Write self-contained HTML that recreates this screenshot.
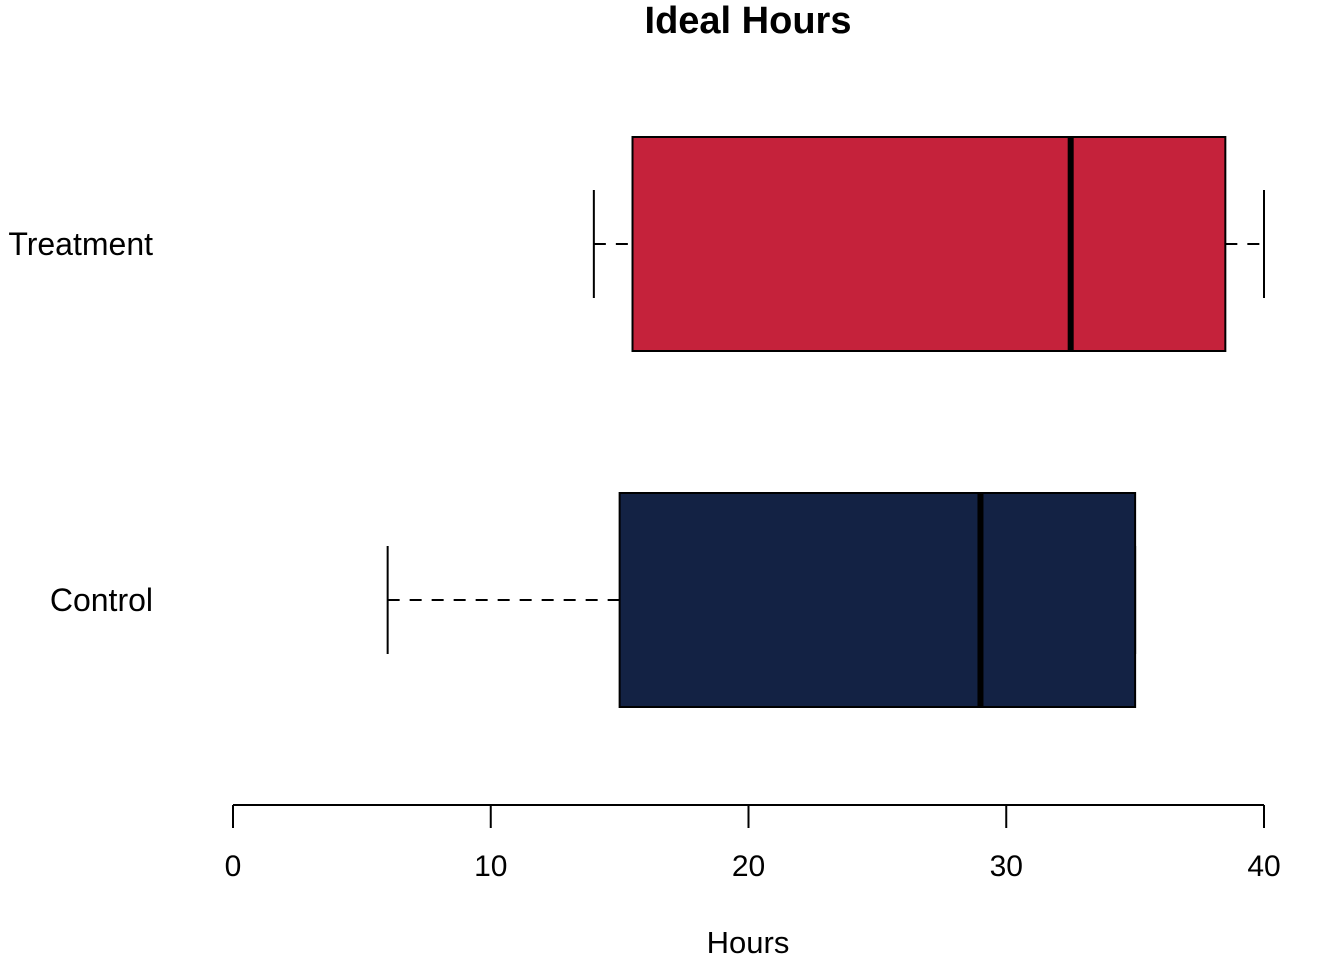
<!DOCTYPE html>
<html><head><meta charset="utf-8"><style>
html,body{margin:0;padding:0;background:#fff;}
svg{display:block;font-family:"Liberation Sans",Arial,sans-serif;}
</style></head><body>
<svg id="chart" width="1344" height="960" viewBox="0 0 1344 960" xmlns="http://www.w3.org/2000/svg">
<text x="748" y="33" text-anchor="middle" font-size="38" font-weight="bold">Ideal Hours</text>
<text x="748" y="953" text-anchor="middle" font-size="31">Hours</text>
<g id="axis"></g>
<g id="boxes"></g>
</svg>
<script>
const groups = ["Control", "Treatment"];
const mins = [6, 14];
const q1s = [15, 15.5];
const medians = [29, 32.5];
const q3s = [35, 38.5];
const maxs = [35, 40];
const colors = ["#132244", "#c5223b"];
const ticks = [0, 10, 20, 30, 40];

const NS = "http://www.w3.org/2000/svg";
const xs = v => 233 + (v - 0) * (1264 - 233) / 40;
const centers = [600, 244];
const ys = i => centers[i];
const half = 107, capHalf = 54;
function mk(tag, attrs, parent){ const e=document.createElementNS(NS,tag); for(const k in attrs) e.setAttribute(k,attrs[k]); parent.appendChild(e); return e; }

const ax = document.getElementById('axis');
let l = mk('line',{x1:xs(ticks[0]),x2:xs(ticks[ticks.length-1]),y1:805,y2:805,stroke:'#000','stroke-width':2},ax);


ticks.forEach(t=>{
  const tk = mk('line',{x1:xs(t),x2:xs(t),y1:805,y2:828,stroke:'#000','stroke-width':2},ax);
  
  
  const tx = mk('text',{x:xs(t),y:876,'text-anchor':'middle','font-size':30},ax);
  
  
  tx.textContent = t;
});

const bx = document.getElementById('boxes');
groups.forEach((g,i)=>{
  const y = ys(i);
  const lab = mk('text',{x:153,y:y+11,'text-anchor':'end','font-size':32},bx);
  
  
  lab.textContent = g;
  if (mins[i] < q1s[i]) {
    const w = mk('line',{x1:xs(mins[i]),x2:xs(q1s[i]),y1:y,y2:y,stroke:'#000','stroke-width':2,'stroke-dasharray':'12,10'},bx);
    
    
  }
  const c1 = mk('line',{x1:xs(mins[i]),x2:xs(mins[i]),y1:y-capHalf,y2:y+capHalf,stroke:'#000','stroke-width':2},bx);
  
  
  if (maxs[i] > q3s[i]) {
    const w2 = mk('line',{x1:xs(q3s[i]),x2:xs(maxs[i]),y1:y,y2:y,stroke:'#000','stroke-width':2,'stroke-dasharray':'12,10'},bx);
    
    
  }
  const c2 = mk('line',{x1:xs(maxs[i]),x2:xs(maxs[i]),y1:y-capHalf,y2:y+capHalf,stroke:'#000','stroke-width':2},bx);
  
  
  const r = mk('rect',{x:xs(q1s[i]),y:y-half,width:xs(q3s[i])-xs(q1s[i]),height:2*half,fill:colors[i],stroke:'#000','stroke-width':2},bx);
  
  
  const m = mk('line',{x1:xs(medians[i]),x2:xs(medians[i]),y1:y-half,y2:y+half,stroke:'#000','stroke-width':6},bx);
  
  
});
</script>
</body></html>
